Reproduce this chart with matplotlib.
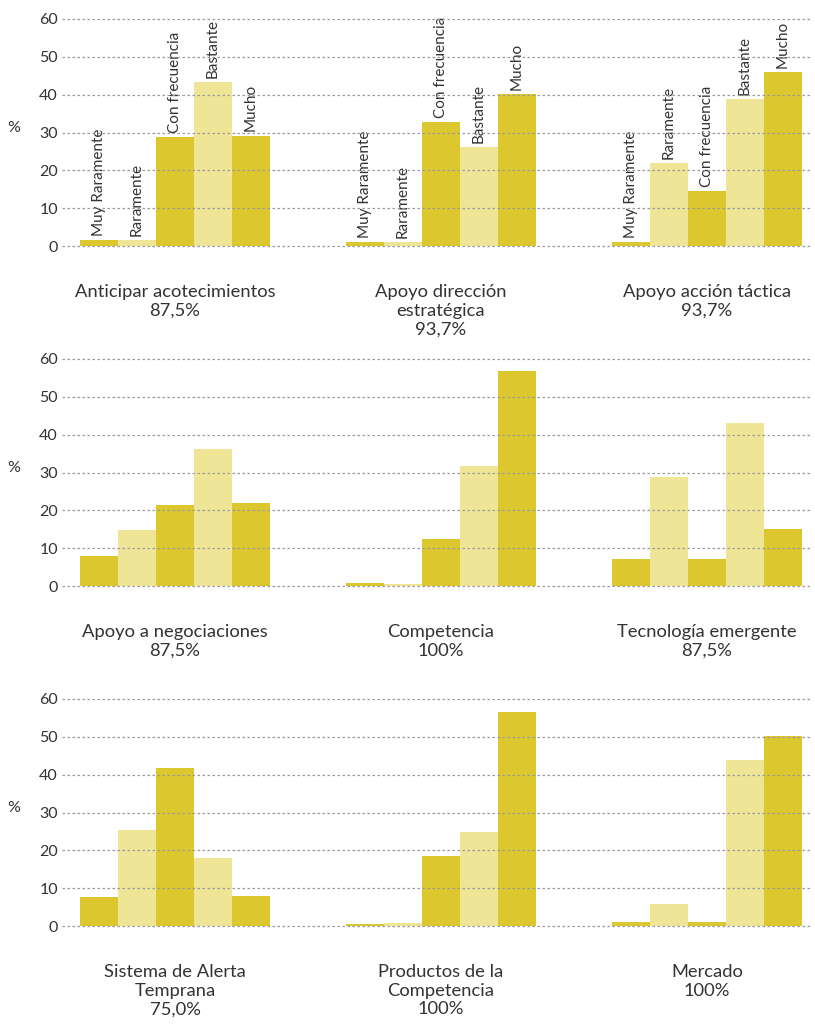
import matplotlib
matplotlib.use("Agg")
import matplotlib.pyplot as plt
import numpy as np

plt.rcParams['font.family'] = ['Lato', 'DejaVu Sans']

categories = ['Muy Raramente', 'Raramente', 'Con frecuencia', 'Bastante', 'Mucho']

# Row 1
anticipar = [1.6, 1.6, 28.7, 43.4, 29.2]
direccion = [1.1, 1.1, 32.8, 26.2, 40.1]
tactica = [1.1, 22.0, 14.6, 38.9, 46.0]
# Row 2
negociaciones = [7.9, 14.8, 21.4, 36.2, 22.0]
competencia = [0.7, 0.5, 12.4, 31.7, 56.9]
tecnologia = [7.1, 28.8, 7.1, 43.1, 15.1]
# Row 3
alerta = [7.7, 25.4, 41.8, 18.0, 7.9]
productos = [0.5, 0.8, 18.5, 24.9, 56.6]
mercado = [1.1, 5.8, 1.1, 43.9, 50.3]

row_values = [
    [anticipar, direccion, tactica],
    [negociaciones, competencia, tecnologia],
    [alerta, productos, mercado],
]
row_titles = [
    ['Anticipar acotecimientos\n87,5%', 'Apoyo dirección\nestratégica\n93,7%', 'Apoyo acción táctica\n93,7%'],
    ['Apoyo a negociaciones\n87,5%', 'Competencia\n100%', 'Tecnología emergente\n87,5%'],
    ['Sistema de Alerta\nTemprana\n75,0%', 'Productos de la\nCompetencia\n100%', 'Mercado\n100%'],
]
yticks = [0, 10, 20, 30, 40, 50, 60]

dark = '#DCC82E'
light = '#EEE597'
bar_colors = [dark, light, dark, light, dark]
text_color = '#333333'

W, H = 815, 1029
fig = plt.figure(figsize=(W / 100, H / 100), dpi=100)

left_px, right_px = 62, 812
unit_px = 38.0
first_bar_px = 80
group_step = 7

for r in range(3):
    top_px = 19 + 340 * r
    zero_px = 246 + 340 * r
    ax = fig.add_axes([left_px / W, 1 - zero_px / H,
                       (right_px - left_px) / W, (zero_px - top_px) / H])
    ax.set_xlim((left_px - first_bar_px) / unit_px, (right_px - first_bar_px) / unit_px)
    ax.set_ylim(0, 60)

    for g, vals in enumerate(row_values[r]):
        xs = g * group_step + np.arange(len(vals))
        ax.bar(xs, vals, width=1.0, align='edge', color=bar_colors,
               edgecolor='none', zorder=2)
        if r == 0:
            for x, v, lab in zip(xs, vals, categories):
                ax.annotate(lab, xy=(x + 0.5, v), xytext=(0, 3),
                            textcoords='offset points', rotation=90,
                            ha='center', va='bottom', fontsize=11,
                            color=text_color, annotation_clip=False)
        center = g * group_step + len(vals) / 2
        ax.annotate(row_titles[r][g], xy=(center, 0), xytext=(0, -27.5),
                    textcoords='offset points', ha='center', va='top',
                    fontsize=13.2, linespacing=1.2, color=text_color,
                    annotation_clip=False)

    ax.set_yticks(yticks)
    ax.set_xticks([])
    ax.tick_params(axis='y', length=0, pad=3, labelsize=11.5, labelcolor=text_color)
    for s in ax.spines.values():
        s.set_visible(False)
    for t in yticks:
        ax.axhline(t, color='#9a9a9a', lw=0.9, linestyle=(0, (2, 2)),
                   zorder=3, clip_on=False)
    ax.text(-0.065, 0.52, '%', transform=ax.transAxes, ha='center', va='center',
            fontsize=11.5, color=text_color)
    ax.patch.set_alpha(0)

fig.savefig('out.png', dpi=100)
